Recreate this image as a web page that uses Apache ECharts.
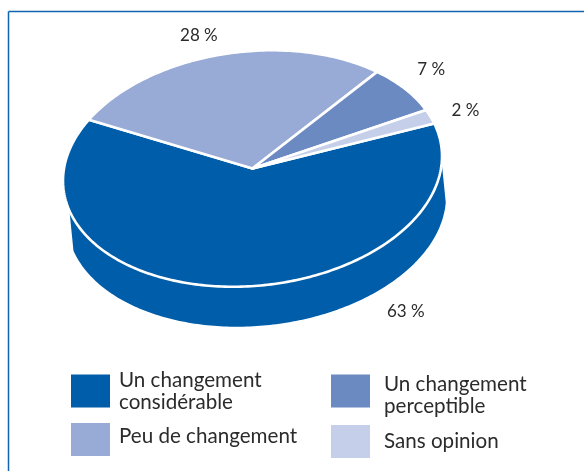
<!DOCTYPE html>
<html><head><meta charset="utf-8">
<style>html,body{margin:0;padding:0;background:#fff}#c{width:584px;height:471px}</style>
<script src="https://cdn.jsdelivr.net/npm/echarts@6/dist/echarts.min.js"></script>
</head><body><div id="c"></div>
<script>
const categories = ['Un changement\nconsidérable', 'Peu de changement', 'Un changement\nperceptible', 'Sans opinion'];
const values = [63, 28, 7, 2];
const colors = ['#005DA9', '#98AAD6', '#6B8AC2', '#C5CFE9'];
const labelOffsets = [[176, 25], [-23, -19], [26, -20], [35, -6]];

const FONT = 'Lato, "Open Sans", sans-serif';
const TEXT = '#2b2b2b';
const E = {cx: 252.5, cy: 168.5, a: 189.5, c: -12.2, d: 117.6, dx: 4, dy: 40};
const START = 343.5;
const SIDE = [3, 165];
const rad = d => d * Math.PI / 180;
const pt = (t, ox = 0, oy = 0) => [
  E.cx + E.a * Math.cos(rad(t)) + ox,
  E.cy + E.c * Math.cos(rad(t)) + E.d * Math.sin(rad(t)) + oy
];
const arc = (t0, t1, ox, oy) => {
  const n = Math.max(2, Math.ceil(Math.abs(t1 - t0)));
  const p = [];
  for (let i = 0; i <= n; i++) p.push(pt(t0 + (t1 - t0) * i / n, ox, oy));
  return p;
};
const total = values.reduce((s, v) => s + v, 0);
const starts = values.map((_, i) => START + values.slice(0, i).reduce((s, v) => s + v, 0) / total * 360);

const series = categories.map((name, i) => ({
  type: 'custom',
  name,
  coordinateSystem: 'none',
  silent: true,
  itemStyle: {color: colors[i]},
  z: 2,
  data: [[starts[i], values[i]]],
  renderItem(params, api) {
    const t0 = api.value(0), sweep = api.value(1) / total * 360, t1 = t0 + sweep, mid = t0 + sweep / 2;
    const children = [];
    if (i === 0) {
      children.push({
        type: 'polygon', z2: 1,
        shape: {points: arc(SIDE[0], SIDE[1], 0, 0).concat(arc(SIDE[1], SIDE[0], E.dx, E.dy))},
        style: {fill: colors[i]}
      });
    }
    children.push({
      type: 'polygon', z2: 5,
      shape: {points: [[E.cx, E.cy]].concat(arc(t0, t1, 0, 0))},
      style: {fill: colors[i], stroke: '#fff', lineWidth: 2.6, lineJoin: 'round'}
    });
    const a = pt(mid);
    children.push({
      type: 'text', z2: 6,
      x: a[0] + labelOffsets[i][0], y: a[1] + labelOffsets[i][1],
      style: {text: api.value(1) + ' %', font: '17px ' + FONT, fill: TEXT, align: 'center', verticalAlign: 'middle'}
    });
    return {type: 'group', children};
  }
}));

const legendBox = (i, left, top, gap, after, icon, itemHeight) => ({
  left, top, orient: 'vertical', data: [{name: categories[i], icon}],
  itemWidth: 39, itemHeight, itemGap: 0, padding: 0, selectedMode: false,
  formatter: s => [
    ...s.split('\n').map(l => '{t|' + l + '}'),
    ...(after ? ['{a|\u00a0}'] : [])
  ].join('\n'),
  textStyle: {
    rich: {
      a: {fontSize: 1, lineHeight: after || 1},
      t: {fontFamily: FONT, fontSize: 20.6, color: TEXT, lineHeight: 22, padding: [0, 0, 0, gap]}
    }
  }
});

const chart = echarts.init(document.getElementById('c'), null, {renderer: 'canvas'});
chart.setOption({
  animation: false,
  backgroundColor: '#fff',
  legend: [
    legendBox(0, 71, 369.5, 4, 0, 'rect', 33),
    legendBox(1, 71, 423, 4, 6, 'rect', 33),
    legendBox(2, 331, 374, 9, 0, 'path://M0,0H39V33H0Z M0,42L0.01,42', 42),
    legendBox(3, 331, 425, 9, 0, 'rect', 33)
  ],
  graphic: [
    {type: 'line', shape: {x1: 8.5, y1: 11.5, x2: 584, y2: 11.5}, style: {stroke: '#1264b0', lineWidth: 1.5}},
    {type: 'line', shape: {x1: 8.5, y1: 11.5, x2: 8.5, y2: 471}, style: {stroke: '#1264b0', lineWidth: 1.5}}
  ],
  series
});
</script></body></html>
